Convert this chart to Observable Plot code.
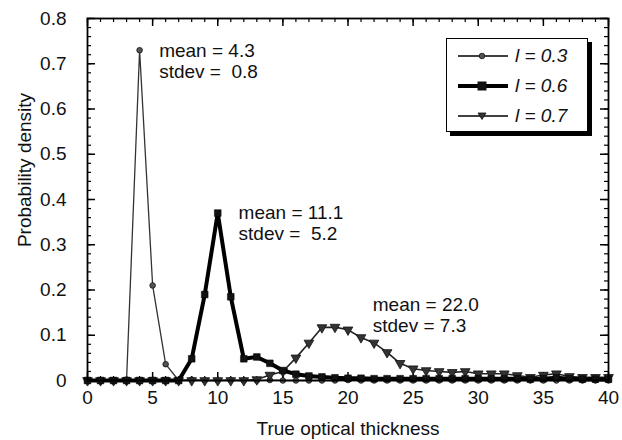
<!DOCTYPE html>
<html>
<head>
<meta charset="utf-8">
<script src="https://cdn.jsdelivr.net/npm/d3@7"></script>
<script src="https://cdn.jsdelivr.net/npm/@observablehq/plot@0.6"></script>
<style>
  html, body { margin: 0; padding: 0; background: #fff; }
  #wrap { position: relative; width: 622px; height: 440px; font-family: "Liberation Sans", Arial, Helvetica, sans-serif; }
  #ytitle { position: absolute; left: 24px; top: 170px; transform: translate(-50%, -50%) rotate(-90deg); white-space: nowrap; font-size: 19px; color: #111; line-height: 1; }
  #legend { position: absolute; left: 446px; top: 38px; width: 140px; height: 92px; border: 1.5px solid #000; background: #fff; box-shadow: 4px 4px 0 #000; }
  .row { position: absolute; left: 0; height: 24px; width: 140px; }
  .row svg { position: absolute; left: 10px; top: 0; }
  .row span { position: absolute; left: 68px; top: 0; line-height: 24px; font-size: 19px; font-style: italic; color: #111; }
</style>
</head>
<body>
<div id="wrap"></div>
<script>
// Optical thickness (x) for every series
const thickness = [0,1,2,3,4,5,6,7,8,9,10,11,12,13,14,15,16,17,18,19,20,21,22,23,24,25,26,27,28,29,30,31,32,33,34,35,36,37,38,39,40];
// Probability density, l = 0.3
const density03 = [0,0,0,0.002,0.73,0.21,0.036,0,0.002,0,0,0.001,0,0,0.001,0,0,0,0,0,0.001,0,0,0,0,0,0,0,0,0,0,0,0,0,0,0,0,0,0,0,0];
// Probability density, l = 0.6
const density06 = [0,0,0,0,0,0,0,0,0.048,0.19,0.37,0.185,0.048,0.052,0.038,0.022,0.014,0.01,0.008,0.006,0.005,0.005,0.004,0.004,0.004,0.004,0.004,0.004,0.004,0.004,0.004,0.004,0.004,0.004,0.003,0.004,0.006,0.004,0.003,0.003,0.003];
// Probability density, l = 0.7
const density07 = [0,0,0,0,0,0,0,0,0,0,0,0,0,0.002,0.012,0.02,0.05,0.083,0.117,0.118,0.112,0.095,0.083,0.062,0.038,0.026,0.022,0.02,0.018,0.02,0.015,0.015,0.015,0.011,0.007,0.012,0.015,0.009,0.007,0.007,0.007];
const seriesNames = ["l = 0.3", "l = 0.6", "l = 0.7"];
// Axis ticks
const xTicks = [0,5,10,15,20,25,30,35,40];
const yTicks = [0,0.1,0.2,0.3,0.4,0.5,0.6,0.7,0.8];
const xMinor = d3.range(0, 41, 1);
const yMinor = d3.range(0, 0.801, 0.02);
// Annotations
const annX = [5.5, 11.6, 21.9];
const annY = [0.749, 0.391, 0.188];
const annText = ["mean = 4.3\nstdev = \u00a00.8", "mean = 11.1\nstdev = \u00a05.2", "mean = 22.0\nstdev = 7.3"];

const s03 = thickness.map((t, i) => ({x: t, y: density03[i]}));
const s06 = thickness.map((t, i) => ({x: t, y: density06[i]}));
const s07 = thickness.map((t, i) => ({x: t, y: density07[i]}));
const anns = annX.map((x, i) => ({x, y: annY[i], text: annText[i]}));

const W = 622, H = 440, mT = 18, mB = 60, mL = 87, mR = 14;
const fh = H - mT - mB, fw = W - mL - mR;
const major = 8, minor = 4;

const chart = Plot.plot({
  width: W, height: H,
  marginTop: mT, marginBottom: mB, marginLeft: mL, marginRight: mR,
  style: {fontFamily: "Liberation Sans, Arial, Helvetica, sans-serif", fontSize: "19px", color: "#111", background: "#fff"},
  x: {domain: [0, 40], nice: false},
  y: {domain: [0, 0.8], nice: false},
  marks: [
    Plot.axisX(xTicks, {tickSize: 0, tickPadding: 10, fontSize: 19, label: "True optical thickness", labelAnchor: "center", labelArrow: "none", labelOffset: 54}),
    Plot.axisY(yTicks, {tickSize: 0, tickPadding: 21, fontSize: 19, tickFormat: d => d === 0 ? "0" : d.toFixed(1), label: null}),
    // inward ticks on all four sides
    Plot.ruleX(xMinor, {x: d => d, insetTop: fh - minor, stroke: "#000", strokeWidth: 1.2}),
    Plot.ruleX(xMinor, {x: d => d, insetBottom: fh - minor, stroke: "#000", strokeWidth: 1.2}),
    Plot.ruleX(xTicks, {x: d => d, insetTop: fh - major, stroke: "#000", strokeWidth: 1.5}),
    Plot.ruleX(xTicks, {x: d => d, insetBottom: fh - major, stroke: "#000", strokeWidth: 1.5}),
    Plot.ruleY(yMinor, {y: d => d, insetRight: fw - minor, stroke: "#000", strokeWidth: 1.2}),
    Plot.ruleY(yMinor, {y: d => d, insetLeft: fw - minor, stroke: "#000", strokeWidth: 1.2}),
    Plot.ruleY(yTicks, {y: d => d, insetRight: fw - major, stroke: "#000", strokeWidth: 1.5}),
    Plot.ruleY(yTicks, {y: d => d, insetLeft: fw - major, stroke: "#000", strokeWidth: 1.5}),
    // series
    Plot.line(s03, {x: "x", y: "y", stroke: "#333", strokeWidth: 1.3}),
    Plot.dot(s03, {x: "x", y: "y", symbol: "circle", r: 2.8, fill: "#555", stroke: "#111", strokeWidth: 0.8}),
    Plot.line(s07, {x: "x", y: "y", stroke: "#222", strokeWidth: 1.6}),
    Plot.dot(s07, {x: "x", y: "y", symbol: "triangle", r: 3.6, rotate: 180, fill: "#333", stroke: "#111", strokeWidth: 0.8}),
    Plot.line(s06, {x: "x", y: "y", stroke: "#000", strokeWidth: 4}),
    Plot.dot(s06, {x: "x", y: "y", symbol: "square", r: 3.8, fill: "#111", stroke: "#000", strokeWidth: 0.5}),
    Plot.frame({stroke: "#000", strokeWidth: 1.8}),
    // annotations
    Plot.text(anns, {x: "x", y: "y", text: "text", textAnchor: "start", lineAnchor: "top", lineHeight: 1.12, fontSize: 19, fill: "#111"})
  ]
});

const wrap = document.getElementById("wrap");
wrap.appendChild(chart);

const ytitle = document.createElement("div");
ytitle.id = "ytitle";
ytitle.textContent = "Probability density";
wrap.appendChild(ytitle);

// legend
const legend = document.createElement("div");
legend.id = "legend";
const legendStyles = [
  {w: 1.3, sym: `<circle cx="25" cy="12" r="2.8" fill="#555" stroke="#111" stroke-width="0.8"/>`},
  {w: 4, sym: `<rect x="20.5" y="7.5" width="9" height="9" fill="#111"/>`},
  {w: 1.6, sym: `<path d="M21,9 L29,9 L25,15.5 Z" fill="#333" stroke="#111" stroke-width="0.8"/>`}
];
const rowTops = [5, 35, 65];
seriesNames.forEach((name, i) => {
  const row = document.createElement("div");
  row.className = "row";
  row.style.top = rowTops[i] + "px";
  row.innerHTML = `<svg width="52" height="24"><line x1="1" y1="12" x2="51" y2="12" stroke="#000" stroke-width="${legendStyles[i].w}"/>${legendStyles[i].sym}</svg><span>${name}</span>`;
  legend.appendChild(row);
});
wrap.appendChild(legend);
</script>
</body>
</html>
